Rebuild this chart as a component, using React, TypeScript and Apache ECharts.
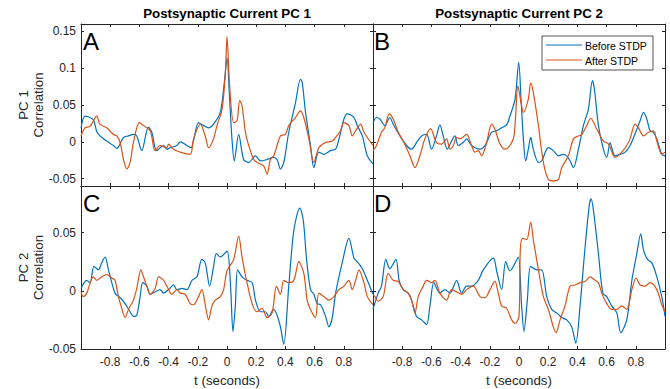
import React, { useEffect, useRef } from 'react';
import * as echarts from 'echarts';

// Cross-correlation traces as [lag (s), correlation] pairs.
// Row = projection PC, column = postsynaptic current PC.
const pc1Pc1Before = [
  [-1.0, 0.019], [-0.973, 0.035], [-0.95, 0.034], [-0.915, 0.03], [-0.892, 0.014], [-0.87, 0.008],
  [-0.824, 0.001], [-0.778, -0.005], [-0.755, -0.009], [-0.709, 0.006], [-0.675, 0.008], [-0.641, 0.01],
  [-0.618, 0.008], [-0.584, -0.012], [-0.538, 0.02], [-0.515, 0.013], [-0.481, -0.012], [-0.435, -0.005],
  [-0.412, -0.01], [-0.389, -0.008], [-0.343, -0.005], [-0.32, 0.0], [-0.275, -0.005], [-0.247, -0.008],
  [-0.195, 0.026], [-0.16, 0.022], [-0.126, 0.019], [-0.092, 0.024], [-0.046, 0.04], [-0.018, 0.081],
  [0.0, 0.114], [0.018, 0.058], [0.034, 0.004], [0.05, -0.026], [0.08, 0.01], [0.114, -0.024],
  [0.149, -0.028], [0.195, -0.019], [0.229, -0.026], [0.275, -0.024], [0.32, -0.021], [0.343, -0.024],
  [0.366, -0.037], [0.389, -0.028], [0.423, 0.013], [0.469, 0.053], [0.503, 0.085], [0.515, 0.081],
  [0.538, 0.04], [0.572, -0.005], [0.595, -0.035], [0.629, -0.014], [0.664, -0.017], [0.709, -0.012],
  [0.744, -0.01], [0.767, 0.004], [0.801, 0.031], [0.824, 0.038], [0.87, 0.033], [0.892, 0.022],
  [0.927, 0.008], [0.961, -0.019], [1.0, -0.03],
];
const pc1Pc1After = [
  [-1.0, 0.008], [-0.973, 0.019], [-0.938, 0.021], [-0.892, 0.035], [-0.87, 0.024], [-0.824, 0.019],
  [-0.778, 0.01], [-0.755, 0.008], [-0.732, -0.001], [-0.709, -0.024], [-0.686, -0.037], [-0.664, -0.028],
  [-0.641, -0.001], [-0.6, 0.026], [-0.572, 0.022], [-0.526, 0.015], [-0.492, -0.012], [-0.458, -0.005],
  [-0.412, -0.008], [-0.4, -0.003], [-0.366, -0.01], [-0.32, -0.014], [-0.252, -0.017], [-0.229, 0.004],
  [-0.183, 0.024], [-0.149, 0.008], [-0.126, -0.008], [-0.092, 0.004], [-0.069, 0.022], [-0.034, 0.044],
  [-0.011, 0.094], [0.0, 0.143], [0.018, 0.076], [0.046, 0.026], [0.069, 0.029], [0.087, 0.056],
  [0.103, 0.049], [0.126, 0.013], [0.149, -0.005], [0.183, -0.024], [0.206, -0.028], [0.252, -0.033],
  [0.275, -0.044], [0.297, -0.024], [0.32, -0.019], [0.343, -0.005], [0.366, 0.008], [0.4, 0.01],
  [0.423, 0.022], [0.469, 0.033], [0.503, 0.042], [0.526, 0.033], [0.561, 0.004], [0.595, -0.028],
  [0.629, -0.008], [0.675, -0.001], [0.721, 0.001], [0.744, 0.006], [0.778, 0.015], [0.801, 0.026],
  [0.835, 0.022], [0.858, 0.008], [0.881, 0.015], [0.915, 0.024], [0.938, 0.013], [1.0, -0.005],
];
const pc1Pc2Before = [
  [-1.0, 0.025], [-0.976, 0.033], [-0.953, 0.031], [-0.919, 0.022], [-0.885, 0.033], [-0.862, 0.024],
  [-0.816, 0.008], [-0.77, -0.005], [-0.736, -0.01], [-0.702, -0.001], [-0.667, 0.008], [-0.633, 0.01],
  [-0.599, -0.01], [-0.565, 0.008], [-0.542, 0.023], [-0.519, 0.008], [-0.491, -0.01], [-0.462, 0.001],
  [-0.439, 0.008], [-0.416, -0.005], [-0.382, -0.001], [-0.359, 0.004], [-0.325, -0.005], [-0.267, -0.01],
  [-0.233, -0.005], [-0.187, 0.013], [-0.153, 0.015], [-0.119, 0.019], [-0.085, 0.023], [-0.062, 0.035],
  [-0.027, 0.058], [-0.002, 0.108], [0.014, 0.058], [0.03, 0.004], [0.046, -0.026], [0.064, -0.01],
  [0.08, 0.006], [0.098, -0.01], [0.133, -0.028], [0.155, -0.026], [0.201, -0.008], [0.235, -0.012],
  [0.27, -0.019], [0.304, -0.017], [0.327, -0.019], [0.35, -0.026], [0.373, -0.035], [0.407, -0.01],
  [0.441, 0.022], [0.475, 0.044], [0.503, 0.083], [0.517, 0.071], [0.544, 0.022], [0.578, -0.01],
  [0.601, -0.021], [0.624, -0.001], [0.635, -0.008], [0.658, -0.019], [0.693, -0.017], [0.727, -0.014],
  [0.761, -0.005], [0.807, 0.017], [0.83, 0.029], [0.853, 0.04], [0.875, 0.031], [0.898, 0.015],
  [0.921, 0.013], [0.944, 0.004], [0.978, -0.017], [1.0, -0.019],
];
const pc1Pc2After = [
  [-1.0, -0.012], [-0.976, -0.005], [-0.942, 0.013], [-0.919, 0.019], [-0.889, 0.038], [-0.862, 0.031],
  [-0.827, 0.013], [-0.793, 0.001], [-0.747, -0.019], [-0.713, -0.035], [-0.679, -0.019], [-0.645, 0.004],
  [-0.606, 0.018], [-0.565, -0.001], [-0.53, -0.003], [-0.496, 0.004], [-0.473, -0.01], [-0.45, -0.005],
  [-0.427, 0.006], [-0.405, 0.004], [-0.359, 0.01], [-0.325, -0.005], [-0.302, -0.014], [-0.279, -0.012],
  [-0.256, -0.019], [-0.222, -0.001], [-0.187, 0.024], [-0.165, 0.017], [-0.13, -0.003], [-0.096, -0.01],
  [-0.062, -0.005], [-0.034, 0.008], [-0.007, 0.076], [0.014, 0.053], [0.03, 0.04], [0.064, 0.058],
  [0.08, 0.08], [0.098, 0.067], [0.133, 0.022], [0.167, -0.028], [0.201, -0.051], [0.235, -0.053],
  [0.27, -0.051], [0.293, -0.035], [0.338, -0.019], [0.373, 0.004], [0.407, 0.008], [0.43, 0.01],
  [0.464, 0.022], [0.491, 0.032], [0.533, 0.017], [0.578, 0.001], [0.613, -0.003], [0.658, -0.021],
  [0.704, -0.014], [0.738, -0.005], [0.761, 0.004], [0.795, 0.024], [0.818, 0.019], [0.853, 0.008],
  [0.887, 0.013], [0.921, 0.015], [0.944, 0.001], [0.978, -0.017], [1.0, -0.014],
];
const pc2Pc1Before = [
  [-1.0, 0.002], [-0.961, 0.009], [-0.938, 0.007], [-0.911, 0.021], [-0.881, 0.018], [-0.858, 0.024],
  [-0.835, 0.029], [-0.812, 0.018], [-0.789, 0.007], [-0.767, -0.002], [-0.732, -0.006], [-0.698, -0.011],
  [-0.664, -0.018], [-0.641, -0.022], [-0.618, -0.021], [-0.595, -0.005], [-0.577, 0.007], [-0.549, 0.004],
  [-0.526, -0.003], [-0.492, -0.001], [-0.458, 0.001], [-0.435, -0.002], [-0.4, 0.001], [-0.366, 0.005],
  [-0.343, 0.001], [-0.309, 0.002], [-0.275, 0.001], [-0.24, 0.009], [-0.206, 0.012], [-0.172, 0.027],
  [-0.149, 0.024], [-0.119, 0.004], [-0.092, 0.021], [-0.073, 0.032], [-0.046, 0.029], [0.0, 0.034],
  [0.023, 0.007], [0.041, -0.035], [0.057, -0.013], [0.073, 0.018], [0.103, 0.012], [0.137, 0.009],
  [0.172, 0.007], [0.195, -0.008], [0.229, -0.018], [0.263, -0.018], [0.286, -0.022], [0.32, -0.016],
  [0.343, -0.021], [0.366, -0.031], [0.389, -0.046], [0.423, 0.004], [0.458, 0.052], [0.499, 0.071],
  [0.522, 0.061], [0.545, 0.027], [0.572, 0.001], [0.595, -0.003], [0.618, -0.011], [0.641, -0.012],
  [0.675, -0.022], [0.698, -0.031], [0.721, -0.023], [0.744, -0.002], [0.789, 0.024], [0.835, 0.045],
  [0.87, 0.028], [0.892, 0.025], [0.927, 0.019], [0.961, 0.009], [1.0, -0.003],
];
const pc2Pc1After = [
  [-1.0, -0.001], [-0.984, -0.005], [-0.961, -0.002], [-0.915, 0.012], [-0.892, 0.009], [-0.858, 0.012],
  [-0.824, 0.014], [-0.789, 0.011], [-0.767, 0.009], [-0.744, -0.005], [-0.721, -0.015], [-0.698, -0.023],
  [-0.675, -0.016], [-0.641, -0.008], [-0.618, 0.002], [-0.59, 0.018], [-0.572, 0.012], [-0.549, 0.004],
  [-0.526, -0.003], [-0.492, 0.002], [-0.469, 0.012], [-0.435, 0.009], [-0.412, 0.004], [-0.378, -0.003],
  [-0.343, 0.001], [-0.32, -0.002], [-0.286, -0.003], [-0.252, -0.011], [-0.229, -0.012], [-0.195, -0.005],
  [-0.172, 0.001], [-0.149, -0.012], [-0.126, -0.025], [-0.103, -0.013], [-0.08, -0.008], [-0.046, -0.005],
  [-0.023, 0.001], [0.0, 0.017], [0.046, 0.027], [0.08, 0.047], [0.103, 0.029], [0.137, 0.007],
  [0.172, -0.011], [0.206, -0.018], [0.24, -0.015], [0.275, -0.023], [0.309, -0.019], [0.339, 0.004],
  [0.366, -0.003], [0.389, 0.009], [0.423, 0.007], [0.458, 0.009], [0.492, 0.025], [0.526, 0.015],
  [0.549, -0.008], [0.572, -0.016], [0.606, -0.023], [0.629, -0.002], [0.664, -0.005], [0.698, -0.008],
  [0.732, -0.005], [0.767, 0.001], [0.801, 0.004], [0.835, 0.009], [0.858, 0.001], [0.881, 0.009],
  [0.904, 0.018], [0.938, 0.007], [0.961, -0.005], [1.0, -0.012],
];
const pc2Pc2Before = [
  [-1.0, -0.016], [-0.965, -0.002], [-0.942, 0.004], [-0.912, 0.027], [-0.885, 0.019], [-0.843, 0.027],
  [-0.821, 0.009], [-0.793, 0.001], [-0.759, -0.002], [-0.736, -0.008], [-0.702, -0.022], [-0.667, -0.025],
  [-0.633, -0.029], [-0.61, -0.013], [-0.583, 0.007], [-0.542, -0.002], [-0.507, 0.001], [-0.473, -0.002],
  [-0.427, 0.009], [-0.393, -0.002], [-0.359, 0.004], [-0.325, 0.004], [-0.279, 0.009], [-0.245, 0.018],
  [-0.176, 0.028], [-0.153, 0.017], [-0.119, 0.001], [-0.091, 0.025], [-0.062, 0.017], [-0.034, 0.022],
  [-0.005, 0.029], [0.018, -0.013], [0.034, -0.035], [0.057, -0.008], [0.08, 0.021], [0.121, 0.018],
  [0.155, 0.018], [0.19, -0.005], [0.224, -0.016], [0.258, -0.019], [0.293, -0.023], [0.327, -0.025],
  [0.361, -0.031], [0.389, -0.045], [0.418, -0.013], [0.453, 0.038], [0.482, 0.074], [0.494, 0.079],
  [0.51, 0.069], [0.544, 0.032], [0.574, -0.002], [0.601, -0.005], [0.635, -0.013], [0.67, -0.019],
  [0.697, -0.036], [0.738, -0.025], [0.773, 0.009], [0.807, 0.032], [0.834, 0.049], [0.853, 0.035],
  [0.88, 0.027], [0.91, 0.024], [0.944, 0.012], [0.978, -0.005], [1.0, -0.022],
];
const pc2Pc2After = [
  [-1.0, -0.003], [-0.987, -0.005], [-0.965, -0.009], [-0.93, -0.005], [-0.896, 0.015], [-0.862, 0.009],
  [-0.827, 0.008], [-0.793, 0.001], [-0.759, -0.002], [-0.736, -0.008], [-0.713, -0.019], [-0.69, -0.005],
  [-0.656, 0.004], [-0.633, 0.009], [-0.599, 0.007], [-0.576, 0.009], [-0.542, -0.002], [-0.496, -0.008],
  [-0.462, 0.001], [-0.427, -0.001], [-0.393, -0.003], [-0.359, 0.001], [-0.313, 0.004], [-0.267, -0.005],
  [-0.233, -0.006], [-0.199, 0.001], [-0.165, 0.008], [-0.142, -0.002], [-0.119, -0.013], [-0.085, -0.015],
  [-0.05, -0.025], [-0.027, -0.028], [0.0, -0.022], [0.009, 0.035], [0.025, 0.045], [0.053, 0.044],
  [0.08, 0.059], [0.098, 0.044], [0.133, 0.018], [0.167, -0.005], [0.201, -0.016], [0.235, -0.031],
  [0.254, -0.036], [0.281, -0.025], [0.315, -0.013], [0.35, 0.004], [0.384, 0.005], [0.418, 0.007],
  [0.453, 0.008], [0.487, 0.012], [0.521, 0.009], [0.544, 0.007], [0.567, -0.002], [0.601, -0.011],
  [0.635, -0.016], [0.67, -0.016], [0.704, -0.013], [0.738, -0.016], [0.773, 0.001], [0.802, 0.011],
  [0.83, 0.005], [0.864, 0.004], [0.898, 0.007], [0.944, 0.001], [0.978, -0.012], [1.0, -0.018],
];

const columnTitles = ['Postsynaptic Current PC 1', 'Postsynaptic Current PC 2'];
const rowNames = ['PC 1', 'PC 2'];
const panelLetters = ['A', 'B', 'C', 'D'];
const seriesNames = ['Before STDP', 'After STDP'];
const rowRanges = [[-0.06, 0.16], [-0.05, 0.09]];
const lagRange = [-1, 1];
const xName = 't (seconds)';
const yName = 'Correlation';

const panels = [
  { before: pc1Pc1Before, after: pc1Pc1After },
  { before: pc1Pc2Before, after: pc1Pc2After },
  { before: pc2Pc1Before, after: pc2Pc1After },
  { before: pc2Pc2Before, after: pc2Pc2After },
];

const BLUE = '#0072BD';
const ORANGE = '#D95319';
const INK = '#262626';
const FONT = '"Liberation Sans", Arial, Helvetica, sans-serif';

const COL_LEFT = [81, 373];
const COL_W = 292;
const ROW_TOP = [24, 186];
const ROW_H = [162, 163];

function xTickLabel(v: number) {
  if (Math.abs(v) > 0.99) return '';
  return String(Math.round(v * 10) / 10);
}
function yTickLabel(v: number) {
  const k = v / 0.05;
  if (Math.abs(k - Math.round(k)) > 1e-6) return '';
  return String(Math.round(v * 100) / 100);
}

export default function App() {
  const ref = useRef<HTMLDivElement>(null);

  useEffect(() => {
    if (!ref.current) return;
    const chart = echarts.init(ref.current, undefined, { renderer: 'svg' });

    const grid: any[] = [];
    const xAxis: any[] = [];
    const yAxis: any[] = [];
    const series: any[] = [];
    const graphic: any[] = [];

    const tick = { show: true, inside: true, length: 3, lineStyle: { color: INK, width: 1 } };
    const line = { show: true, onZero: false, lineStyle: { color: INK, width: 1 } };

    panels.forEach((p, i) => {
      const row = Math.floor(i / 2);
      const col = i % 2;
      grid.push({ left: COL_LEFT[col], top: ROW_TOP[row], width: COL_W, height: ROW_H[row] });

      ['bottom', 'top'].forEach((pos) => {
        xAxis.push({
          type: 'value', gridIndex: i, position: pos,
          min: lagRange[0], max: lagRange[1], interval: 0.2,
          axisLine: line, axisTick: tick, splitLine: { show: false },
          axisLabel: {
            show: pos === 'bottom' && row === 1, color: INK, fontSize: 12, fontFamily: FONT,
            margin: 7, formatter: xTickLabel,
          },
        });
      });
      ['left', 'right'].forEach((pos) => {
        yAxis.push({
          type: 'value', gridIndex: i, position: pos,
          min: rowRanges[row][0], max: rowRanges[row][1],
          splitNumber: 4, minInterval: 0.05, maxInterval: 0.05,
          axisLine: line, axisTick: tick, splitLine: { show: false },
          axisLabel: {
            show: pos === 'left' && col === 0, color: INK, fontSize: 12, fontFamily: FONT,
            margin: 5, formatter: yTickLabel,
          },
        });
      });

      series.push({
        type: 'line', name: seriesNames[0], xAxisIndex: 2 * i, yAxisIndex: 2 * i,
        data: p.before, symbol: 'none', z: 2, smooth: 0.3,
        lineStyle: { color: BLUE, width: 1.2 }, itemStyle: { color: BLUE },
      });
      series.push({
        type: 'line', name: seriesNames[1], xAxisIndex: 2 * i, yAxisIndex: 2 * i,
        data: p.after, symbol: 'none', z: 3, smooth: 0.3,
        lineStyle: { color: ORANGE, width: 1.2 }, itemStyle: { color: ORANGE },
      });

      graphic.push({
        type: 'text', x: COL_LEFT[col] + (col === 0 ? 2 : 1), y: ROW_TOP[row] + 17.5, z: 10,
        style: { text: panelLetters[i], font: `24px ${FONT}`, fill: '#000', align: 'left', verticalAlign: 'middle' },
      });
    });

    columnTitles.forEach((t, col) => {
      graphic.push({
        type: 'text', x: COL_LEFT[col] + COL_W / 2, y: 13,
        style: { text: t, font: `bold 13.3px ${FONT}`, fill: '#000', align: 'center', verticalAlign: 'middle' },
      });
      graphic.push({
        type: 'text', x: COL_LEFT[col] + COL_W / 2, y: 380,
        style: { text: xName, font: `13.3px ${FONT}`, fill: INK, align: 'center', verticalAlign: 'middle' },
      });
    });

    rowNames.forEach((name, row) => {
      const cy = ROW_TOP[row] + ROW_H[row] / 2;
      graphic.push({
        type: 'text', x: 23.5, y: cy, rotation: Math.PI / 2,
        style: { text: name, font: `13.3px ${FONT}`, fill: INK, align: 'center', verticalAlign: 'middle' },
      });
      graphic.push({
        type: 'text', x: 38.5, y: cy, rotation: Math.PI / 2,
        style: { text: yName, font: `13.3px ${FONT}`, fill: INK, align: 'center', verticalAlign: 'middle' },
      });
    });

    // legend box inside panel B
    const lx = 542, ly = 36;
    graphic.push({
      type: 'group', z: 20,
      children: [
        { type: 'rect', shape: { x: lx, y: ly, width: 111, height: 34 }, style: { fill: '#fff', stroke: INK, lineWidth: 0.8 } },
        { type: 'line', shape: { x1: lx + 4, y1: ly + 9, x2: lx + 40, y2: ly + 9 }, style: { stroke: BLUE, lineWidth: 1 } },
        { type: 'line', shape: { x1: lx + 4, y1: ly + 24, x2: lx + 40, y2: ly + 24 }, style: { stroke: ORANGE, lineWidth: 1 } },
        { type: 'text', x: lx + 43, y: ly + 9.5, style: { text: seriesNames[0], font: `10.5px ${FONT}`, fill: '#000', verticalAlign: 'middle' } },
        { type: 'text', x: lx + 43, y: ly + 24.5, style: { text: seriesNames[1], font: `10.5px ${FONT}`, fill: '#000', verticalAlign: 'middle' } },
      ],
    });

    chart.setOption({
      animation: false,
      backgroundColor: '#fff',
      grid, xAxis, yAxis, series, graphic,
    });

    return () => chart.dispose();
  }, []);

  return <div ref={ref} style={{ position: 'absolute', left: 0, top: 0, width: 670, height: 389 }} />;
}
